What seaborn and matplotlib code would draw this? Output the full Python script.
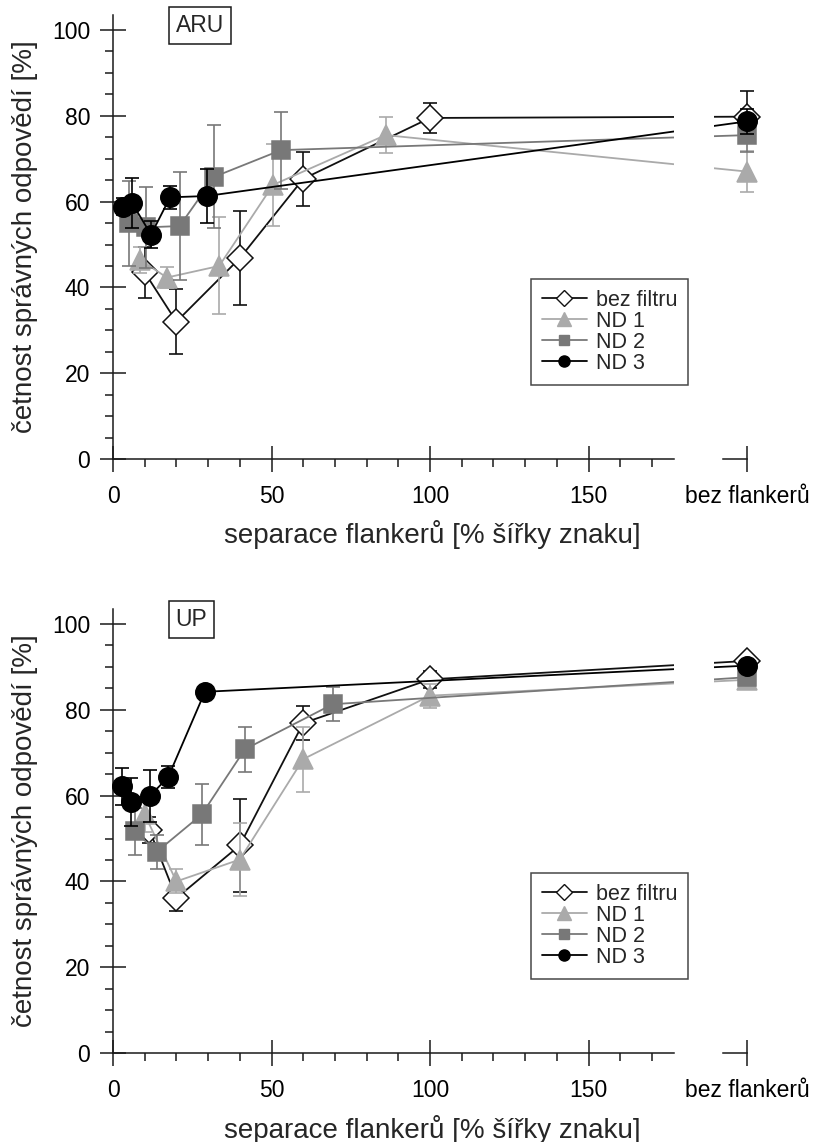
import matplotlib
matplotlib.use("Agg")
import matplotlib.pyplot as plt
from matplotlib.lines import Line2D
from matplotlib.ticker import MultipleLocator, FixedLocator
import seaborn as sns

# ---------------- data ----------------
series = ["bez filtru", "ND 1", "ND 2", "ND 3"]
panels = ["ARU", "UP"]
bf_label = "bez flankerů"
x_label = "separace flankerů [% šířky znaku]"
y_label = "četnost správných odpovědí [%]"

# ARU panel
aru_x_bez = [10, 20, 40, 60, 100]
aru_y_bez = [43.5, 32.0, 46.8, 65.3, 79.5]
aru_e_bez = [6.0, 7.6, 11.0, 6.3, 3.5]
aru_x_nd1 = [8.6, 17, 33.5, 50.5, 86]
aru_y_nd1 = [46.4, 42.3, 45.0, 63.9, 75.5]
aru_e_nd1 = [3.0, 2.4, 11.3, 9.5, 4.2]
aru_x_nd2 = [5.2, 10.5, 21, 32, 53]
aru_y_nd2 = [54.9, 54.0, 54.3, 65.8, 72.0]
aru_e_nd2 = [10.0, 9.5, 12.5, 12.0, 9.0]
aru_x_nd3 = [3, 6, 12, 18, 29.5]
aru_y_nd3 = [58.8, 59.7, 52.3, 61.0, 61.3]
aru_e_nd3 = [2.0, 5.8, 3.1, 2.7, 6.2]
aru_bf_y = [79.8, 67.0, 75.5, 78.7]
aru_bf_e = [6.0, 4.7, 4.0, 3.0]

# UP panel
up_x_bez = [11.5, 20, 40, 60, 100]
up_y_bez = [52.0, 36.1, 48.4, 76.9, 87.1]
up_e_bez = [3.0, 3.0, 10.8, 4.0, 2.0]
up_x_nd1 = [10, 20, 40, 60, 100]
up_y_nd1 = [55.6, 40.0, 45.1, 68.5, 83.3]
up_e_nd1 = [4.0, 2.8, 8.4, 7.6, 2.8]
up_x_nd2 = [6.9, 13.8, 28, 41.6, 69.3]
up_y_nd2 = [51.7, 46.9, 55.6, 70.8, 81.3]
up_e_nd2 = [5.5, 4.0, 7.0, 5.3, 4.0]
up_x_nd3 = [2.9, 5.8, 11.6, 17.4, 29]
up_y_nd3 = [62.2, 58.5, 59.9, 64.3, 84.2]
up_e_nd3 = [4.3, 5.7, 6.0, 2.5, 1.0]
up_bf_y = [91.4, 87.0, 87.6, 90.3]
up_bf_e = [1.0, 1.0, 1.0, 1.0]

aru = [(aru_x_bez, aru_y_bez, aru_e_bez), (aru_x_nd1, aru_y_nd1, aru_e_nd1),
       (aru_x_nd2, aru_y_nd2, aru_e_nd2), (aru_x_nd3, aru_y_nd3, aru_e_nd3)]
up = [(up_x_bez, up_y_bez, up_e_bez), (up_x_nd1, up_y_nd1, up_e_nd1),
      (up_x_nd2, up_y_nd2, up_e_nd2), (up_x_nd3, up_y_nd3, up_e_nd3)]
panel_data = [(aru, aru_bf_y, aru_bf_e), (up, up_bf_y, up_bf_e)]

# ---------------- style ----------------
COLORS = ["#111111", "#aaaaaa", "#787878", "#000000"]
MARKERS = ["D", "^", "s", "o"]
MFC = ["white", "#aaaaaa", "#787878", "#000000"]
MS = [13.5, 15, 13, 14]
LEG_MS = [8, 9.5, 7.5, 8]
DARK = "#1a1a1a"

sns.set_theme(style="ticks")
plt.rcParams['font.family'] = ['Liberation Sans', 'DejaVu Sans']

W, H = 816, 1142
fig = plt.figure(figsize=(W / 100, H / 100), dpi=100)

PXU = 3.17          # px per x unit
X0 = 113            # px of x=0
XMAX_MAIN = 177
BF_X = 200
AX2_L, AX2_R = 189.6, 210
YMAX = 103.5
AX_H = 444
BOTTOMS = [459, 1053]


def add_ax(left, bottom, width, height):
    return fig.add_axes([left / W, 1 - bottom / H, width / W, height / H])


def style_ticks(ax):
    ax.tick_params(which='major', direction='inout', length=19, width=1.1,
                   color=DARK, labelsize=16.5, labelcolor='black')
    ax.tick_params(which='minor', direction='out', length=5.5, width=1.1, color=DARK)
    ax.tick_params(axis='y', which='major', pad=7)
    ax.tick_params(axis='x', which='major', pad=9)
    for s in ['top', 'right']:
        ax.spines[s].set_visible(False)
    for s in ['left', 'bottom']:
        ax.spines[s].set_linewidth(1.1)
        ax.spines[s].set_color(DARK)


for p, (data, bf_y, bf_e) in enumerate(panel_data):
    yb = BOTTOMS[p]
    ax = add_ax(X0, yb, XMAX_MAIN * PXU, AX_H)
    ax2 = add_ax(X0 + AX2_L * PXU, yb, (AX2_R - AX2_L) * PXU, AX_H)
    for a in (ax, ax2):
        a.set_facecolor('white')
        a.set_ylim(0, YMAX)
    ax.set_xlim(0, XMAX_MAIN)
    ax2.set_xlim(AX2_L, AX2_R)

    for i, (xs, ys, es) in enumerate(data):
        z = 3 + 3 * i
        xf = list(xs) + [BF_X]
        yf = list(ys) + [bf_y[i]]
        for a in (ax, ax2):
            sns.lineplot(x=xf, y=yf, ax=a, color=COLORS[i], lw=1.3, sort=False,
                         estimator=None, legend=False, zorder=z + 0.5)
        ax.errorbar(xs, ys, yerr=es, fmt='none', ecolor=COLORS[i], elinewidth=1.2,
                    capsize=4.7, capthick=1.2, zorder=z, clip_on=False)
        ax.plot(xs, ys, ls='none', marker=MARKERS[i], ms=MS[i], mfc=MFC[i],
                mec=COLORS[i], mew=1.1, zorder=z + 1, clip_on=False)
        ax2.errorbar([BF_X], [bf_y[i]], yerr=[bf_e[i]], fmt='none', ecolor=COLORS[i],
                     elinewidth=1.2, capsize=4.7, capthick=1.2, zorder=z, clip_on=False)
        ax2.plot([BF_X], [bf_y[i]], ls='none', marker=MARKERS[i], ms=MS[i], mfc=MFC[i],
                 mec=COLORS[i], mew=1.1, zorder=z + 1, clip_on=False)

    style_ticks(ax)
    ax.xaxis.set_major_locator(FixedLocator([0, 50, 100, 150]))
    ax.xaxis.set_minor_locator(MultipleLocator(10))
    ax.yaxis.set_major_locator(FixedLocator([0, 20, 40, 60, 80, 100]))
    ax.yaxis.set_minor_locator(MultipleLocator(5))
    ax.set_xlabel("")
    ax.set_ylabel("")

    style_ticks(ax2)
    ax2.spines['left'].set_visible(False)
    ax2.yaxis.set_visible(False)
    ax2.spines['bottom'].set_bounds(192.3, BF_X)
    ax2.set_xticks([BF_X])
    ax2.set_xticklabels([bf_label])
    ax2.xaxis.set_minor_locator(FixedLocator([]))
    ax2.set_xlabel("")

    # panel tag
    ax.text(0.1118, 0.977, panels[p], transform=ax.transAxes, ha='left', va='center',
            fontsize=16.5, bbox=dict(boxstyle='square,pad=0.3', fc='white', ec=DARK, lw=1.1),
            zorder=20)

    # legend
    handles = [Line2D([0], [0], color=COLORS[i], lw=1.3, marker=MARKERS[i], ms=LEG_MS[i],
                      mfc=MFC[i], mec=COLORS[i], mew=1.0) for i in range(4)]
    top_px = 279 + (yb - BOTTOMS[0])
    leg = ax.legend(handles, series, loc='upper left',
                    bbox_to_anchor=(531 / W, 1 - top_px / H), bbox_transform=fig.transFigure,
                    borderaxespad=0, frameon=True, fancybox=False, edgecolor=DARK,
                    fontsize=15.5, handlelength=2.1, handletextpad=0.4,
                    labelspacing=0.0, borderpad=0.5)
    leg.get_frame().set_linewidth(1.1)
    leg.set_zorder(30)

    # axis labels
    fig.text(432 / W, 1 - (yb + 76) / H, x_label, ha='center', va='center', fontsize=20)
    fig.text(25 / W, 1 - (yb - AX_H / 2) / H, y_label, ha='center', va='center',
             rotation=90, fontsize=20)

fig.savefig("out.png", dpi=100, facecolor='white')
